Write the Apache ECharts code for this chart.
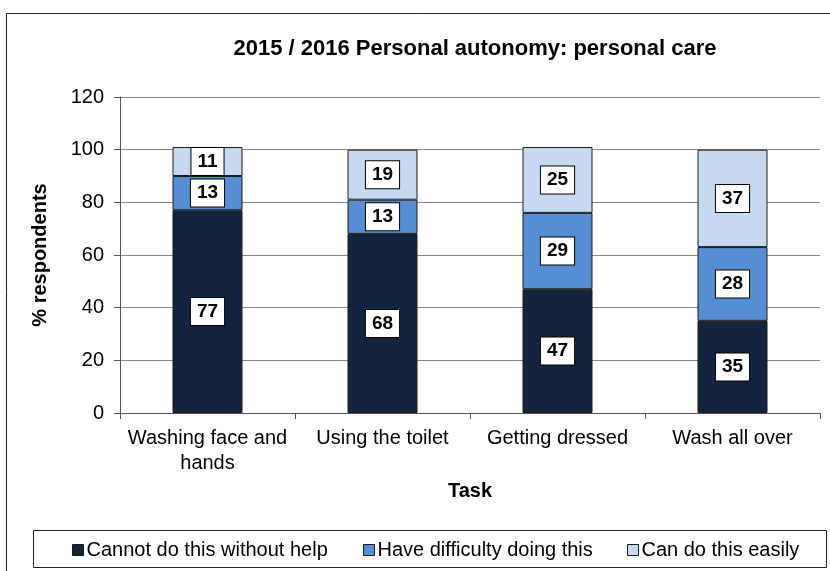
<!DOCTYPE html>
<html><head><meta charset="utf-8">
<script src="https://cdn.jsdelivr.net/npm/echarts@6/dist/echarts.min.js"></script>
<style>html,body{margin:0;padding:0;background:#fff}#c{width:830px;height:571px}</style>
</head><body><div id="c"></div>
<script>
const categories = ['Washing face and\nhands', 'Using the toilet', 'Getting dressed', 'Wash all over'];
const cannot = [77, 68, 47, 35];
const difficulty = [13, 13, 29, 28];
const easily = [11, 19, 25, 37];
const seriesNames = ['Cannot do this without help', 'Have difficulty doing this', 'Can do this easily'];
const colors = ['#13243F', '#558ED5', '#C6D9F1'];
const yTicks = [0, 20, 40, 60, 80, 100, 120];

const chart = echarts.init(document.getElementById('c'), null, {renderer: 'canvas'});
const FONT = 'Liberation Sans, Arial, sans-serif';
const labelCfg = {
  show: true, position: 'inside', color: '#000', fontFamily: FONT, fontWeight: 'bold', fontSize: 19,
  backgroundColor: '#fff', borderColor: '#000', borderWidth: 1, padding: [5, 6, 3, 6]
};
const mk = (name, data, i) => ({
  name, type: 'bar', stack: 'a', data, barWidth: '40%',
  itemStyle: {color: colors[i], borderColor: '#1a1a1a', borderWidth: 1},
  label: labelCfg
});
const legendAt = (name, x) => ({
  data: [name], left: x, top: 535, itemWidth: 11, itemHeight: 11, icon: 'rect',
  textStyle: {fontFamily: FONT, fontSize: 20, color: '#000', padding: [0, 0, 0, -2]},
  itemStyle: {borderColor: '#1a1a1a', borderWidth: 1}
});
chart.setOption({
  animation: false,
  textStyle: {fontFamily: FONT},
  title: {
    text: '2015 / 2016 Personal autonomy: personal care', left: 470, top: 33, textAlign: 'center',
    textStyle: {fontFamily: FONT, fontWeight: 'bold', fontSize: 22, color: '#000'}
  },
  grid: {left: 120, right: 10, top: 97, bottom: 158},
  xAxis: {
    type: 'category', data: categories,
    axisLine: {lineStyle: {color: '#555'}},
    axisTick: {show: true, length: 6, lineStyle: {color: '#555'}},
    axisLabel: {color: '#000', fontSize: 20, fontFamily: FONT, margin: 13, lineHeight: 25, interval: 0},
    name: 'Task', nameLocation: 'middle', nameGap: 68,
    nameTextStyle: {fontFamily: FONT, fontWeight: 'bold', fontSize: 20, color: '#000'}
  },
  yAxis: {
    type: 'value', min: yTicks[0], max: yTicks[yTicks.length - 1], interval: 20,
    axisLine: {show: true, lineStyle: {color: '#555'}},
    axisTick: {show: true, length: 6, lineStyle: {color: '#555'}},
    splitLine: {lineStyle: {color: '#888'}},
    axisLabel: {color: '#000', fontSize: 20, fontFamily: FONT, margin: 16},
    name: '% respondents', nameLocation: 'middle', nameGap: 70, nameRotate: 90,
    nameTextStyle: {fontFamily: FONT, fontWeight: 'bold', fontSize: 20, color: '#000'}
  },
  legend: [legendAt(seriesNames[0], 67), legendAt(seriesNames[1], 358), legendAt(seriesNames[2], 622)],
  graphic: [
    {type: 'rect', shape: {x: 6.5, y: 13.5, width: 840, height: 600}, style: {fill: 'none', stroke: '#222', lineWidth: 1}, silent: true, z: -1},
    {type: 'rect', shape: {x: 33.5, y: 530.5, width: 793, height: 37}, style: {fill: 'none', stroke: '#222', lineWidth: 1}, silent: true, z: -1}
  ],
  series: [mk(seriesNames[0], cannot, 0), mk(seriesNames[1], difficulty, 1), mk(seriesNames[2], easily, 2)]
});
</script></body></html>
